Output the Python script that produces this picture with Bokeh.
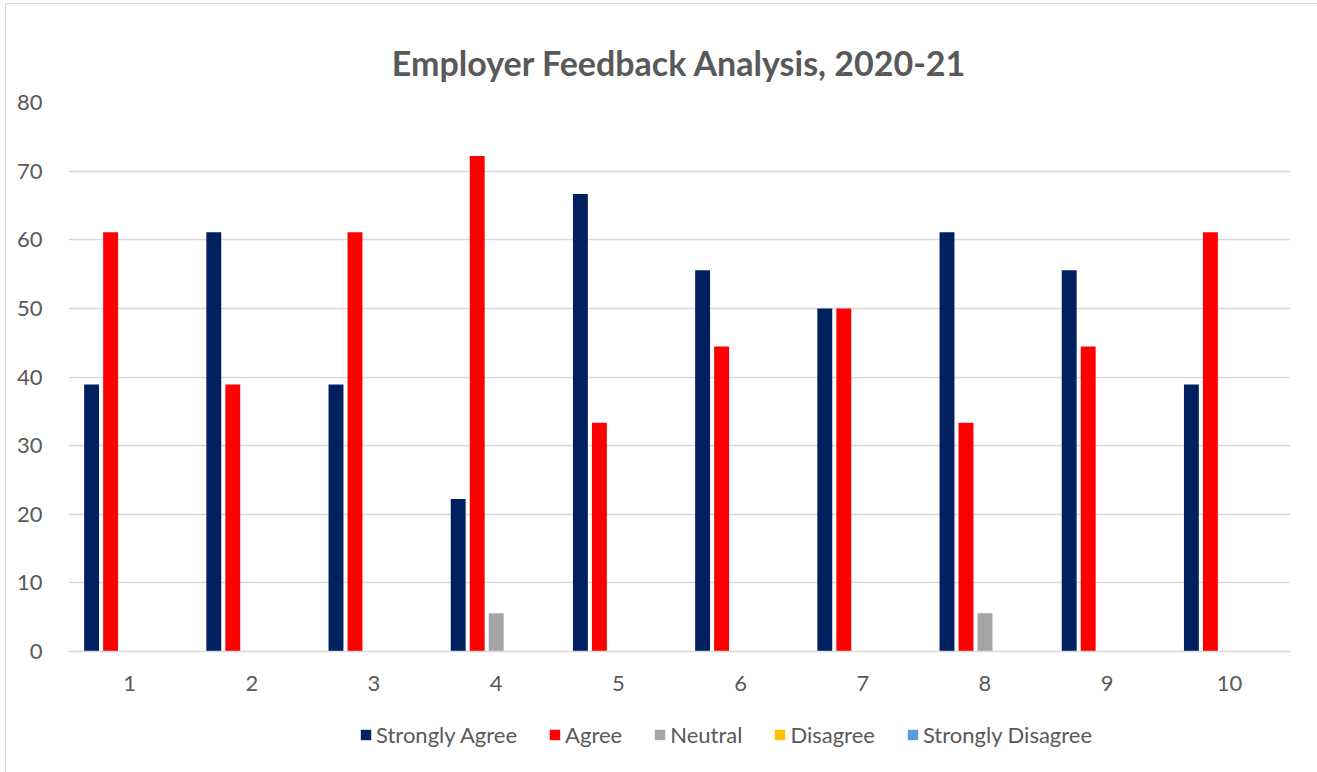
from bokeh.plotting import figure
from bokeh.models import ColumnDataSource, Legend, LegendItem, FixedTicker, Range1d, Label
from bokeh.layouts import column
from bokeh.transform import dodge
from bokeh.embed import file_html
from bokeh.resources import INLINE

categories = [1, 2, 3, 4, 5, 6, 7, 8, 9, 10]
strongly_agree = [38.89, 61.11, 38.89, 22.22, 66.67, 55.56, 50.0, 61.11, 55.56, 38.89]
agree = [61.11, 38.89, 61.11, 72.22, 33.33, 44.44, 50.0, 33.33, 44.44, 61.11]
neutral = [0, 0, 0, 5.56, 0, 0, 0, 5.56, 0, 0]
disagree = [0, 0, 0, 0, 0, 0, 0, 0, 0, 0]
strongly_disagree = [0, 0, 0, 0, 0, 0, 0, 0, 0, 0]
series_names = ["Strongly Agree", "Agree", "Neutral", "Disagree", "Strongly Disagree"]
colors = ["#002060", "#FF0000", "#A5A5A5", "#FFC000", "#5B9BD5"]
title_text = "Employer Feedback Analysis, 2020-21"

src = ColumnDataSource(dict(x=categories, sa=strongly_agree, a=agree, n=neutral,
                            d=disagree, sd=strongly_disagree))
cols = ["sa", "a", "n", "d", "sd"]

FONT = "Lato"
TXT = "#595959"

# title strip
tf = figure(width=1311, height=80, output_backend="svg", toolbar_location=None,
            x_range=Range1d(0, 1), y_range=Range1d(0, 1),
            x_axis_location=None, y_axis_location=None,
            min_border=0, min_border_left=0, min_border_right=0,
            min_border_top=0, min_border_bottom=0)
tf.grid.visible = False
tf.outline_line_color = None
tf.border_fill_color = "white"
tf.add_layout(Label(x=0.5, y=22, x_units="data", y_units="screen", text=title_text,
                    text_align="center", text_baseline="alphabetic",
                    text_font=FONT, text_font_size="34px", text_font_style="bold",
                    text_color=TXT))

p = figure(width=1311, height=626, output_backend="svg", toolbar_location=None,
           x_range=Range1d(0.5, 10.5), y_range=Range1d(0, 80),
           min_border_left=62, min_border_right=27, min_border_top=18, min_border_bottom=59)
p.outline_line_color = None
p.background_fill_color = "white"
p.border_fill_color = "white"

offsets = [-0.311, -0.1555, 0.0, 0.1555, 0.311]
renderers = []
for c, off, col in zip(cols, offsets, colors):
    r = p.vbar(x=dodge("x", off), top=c, width=0.122, bottom=0, source=src,
               fill_color=col, line_color=None)
    renderers.append(r)

p.xgrid.grid_line_color = None
p.ygrid.grid_line_color = "#d9d9d9"
p.ygrid.grid_line_width = 1.5
p.yaxis.ticker = FixedTicker(ticks=[0, 10, 20, 30, 40, 50, 60, 70, 80])
p.xaxis.ticker = FixedTicker(ticks=categories)

for ax in (p.xaxis, p.yaxis):
    ax.major_tick_line_color = None
    ax.minor_tick_line_color = None
    ax.major_label_text_font = FONT
    ax.major_label_text_font_size = "22px"
    ax.major_label_text_color = TXT
p.yaxis.axis_line_color = None
p.xaxis.axis_line_color = "#d9d9d9"
p.xaxis.axis_line_width = 1.5
p.yaxis.major_label_standoff = 20
p.xaxis.major_label_standoff = 18

# legend strip below the chart
lf = figure(width=1311, height=62, output_backend="svg", toolbar_location=None,
            x_range=Range1d(0, 1), y_range=Range1d(0, 1),
            x_axis_location=None, y_axis_location=None,
            min_border=0, min_border_left=0, min_border_right=0,
            min_border_top=0, min_border_bottom=0)
lf.grid.visible = False
lf.outline_line_color = None
lf.border_fill_color = "white"
leg_renderers = []
for col in colors:
    leg_renderers.append(lf.vbar(x=[-5], top=[0], bottom=[0], width=0.1,
                                 fill_color=col, line_color=None))

legend = Legend(items=[LegendItem(label=n, renderers=[r]) for n, r in zip(series_names, leg_renderers)],
                orientation="horizontal", location=(291, 24))
legend.label_text_font = FONT
legend.label_text_font_size = "22px"
legend.label_text_color = TXT
legend.glyph_width = 13
legend.glyph_height = 13
legend.spacing = 31
legend.label_standoff = 4
legend.padding = 0
legend.margin = 0
legend.border_line_color = None
legend.background_fill_alpha = 0
lf.add_layout(legend, "center")

layout = column(tf, p, lf, spacing=0)
layout.styles = {"border-left": "1px solid #d9d9d9", "border-top": "1px solid #d9d9d9",
                 "margin-left": "5px", "margin-top": "3px", "background": "white"}

open("out.html", "w").write(file_html(layout, INLINE))
